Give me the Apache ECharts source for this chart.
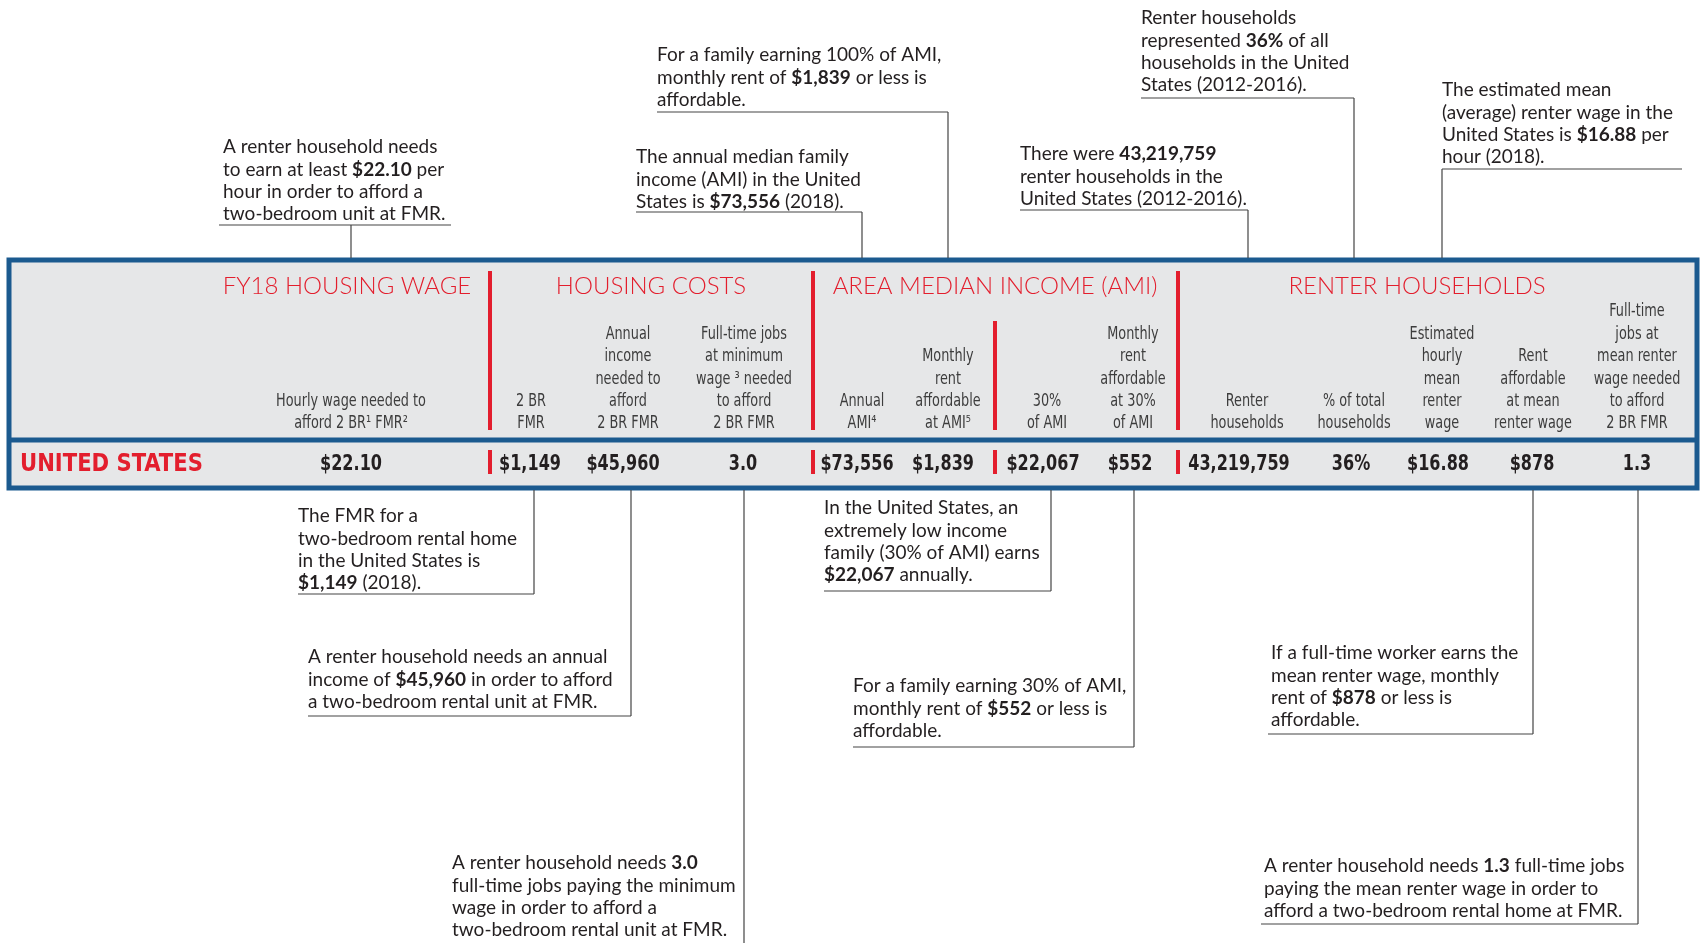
<!DOCTYPE html>
<html>
<head>
<meta charset="utf-8">
<title>Out of Reach 2018 - United States</title>
<script src="https://cdn.jsdelivr.net/npm/echarts@6.0.0/dist/echarts.min.js"></script>
<style>
  html, body { margin: 0; padding: 0; background: #fff; }
  #main { width: 1700px; height: 943px; }
</style>
</head>
<body>
<div id="main"></div>
<script>
var myChart = echarts.init(document.getElementById('main'));

// group titles over the table
const groupTitles = ['FY18 HOUSING WAGE', 'HOUSING COSTS', 'AREA MEDIAN INCOME (AMI)', 'RENTER HOUSEHOLDS'];

// column headers, one list of lines per column
const columnHeaders = [
    ['Hourly wage needed to', 'afford 2 BR¹ FMR²'],
    ['2 BR', 'FMR'],
    ['Annual', 'income', 'needed to', 'afford', '2 BR FMR'],
    ['Full-time jobs', 'at minimum', 'wage ³ needed', 'to afford', '2 BR FMR'],
    ['Annual', 'AMI⁴'],
    ['Monthly', 'rent', 'affordable', 'at AMI⁵'],
    ['30%', 'of AMI'],
    ['Monthly', 'rent', 'affordable', 'at 30%', 'of AMI'],
    ['Renter', 'households'],
    ['% of total', 'households'],
    ['Estimated', 'hourly', 'mean', 'renter', 'wage'],
    ['Rent', 'affordable', 'at mean', 'renter wage'],
    ['Full-time', 'jobs at', 'mean renter', 'wage needed', 'to afford', '2 BR FMR']
];

const rowLabel = 'UNITED STATES';
const rowValues = ['$22.10', '$1,149', '$45,960', '3.0', '$73,556', '$1,839', '$22,067', '$552',
    '43,219,759', '36%', '$16.88', '$878', '1.3'];

// callouts, {b|...} is bold
const notesAbove = [
    ['A renter household needs', 'to earn at least {b|$22.10} per', 'hour in order to afford a', 'two-bedroom unit at FMR.'],
    ['For a family earning 100% of AMI,', 'monthly rent of {b|$1,839} or less is', 'affordable.'],
    ['The annual median family', 'income (AMI) in the United', 'States is {b|$73,556} (2018).'],
    ['There were {b|43,219,759}', 'renter households in the', 'United States (2012-2016).'],
    ['Renter households', 'represented {b|36%} of all', 'households in the United', 'States (2012-2016).'],
    ['The estimated mean', '(average) renter wage in the', 'United States is {b|$16.88} per', 'hour (2018).']
];
const notesBelow = [
    ['The FMR for a', 'two-bedroom rental home', 'in the United States is', '{b|$1,149} (2018).'],
    ['A renter household needs an annual', 'income of {b|$45,960} in order to afford', 'a two-bedroom rental unit at FMR.'],
    ['A renter household needs {b|3.0}', 'full-time jobs paying the minimum', 'wage in order to afford a', 'two-bedroom rental unit at FMR.'],
    ['In the United States, an', 'extremely low income', 'family (30% of AMI) earns', '{b|$22,067} annually.'],
    ['For a family earning 30% of AMI,', 'monthly rent of {b|$552} or less is', 'affordable.'],
    ['If a full-time worker earns the', 'mean renter wage, monthly', 'rent of {b|$878} or less is', 'affordable.'],
    ['A renter household needs {b|1.3} full-time jobs', 'paying the mean renter wage in order to', 'afford a two-bedroom rental home at FMR.']
];

// ---- layout ----
const RED = '#e31e2d', BLUE = '#1b5a8f', INK = '#231f20', GREY = '#3d3d3d';
const NARROW = "'DejaVu Sans Condensed', 'DejaVu Sans', sans-serif";
const NOTE_FONT = "Lato, 'Open Sans', sans-serif";
const box = { x: 9, y: 260, w: 1688, h: 228, split: 440 };
const groupX = [347, 651, 995, 1417];
const headX = [351, 531, 628, 744, 862, 948, 1047, 1133, 1247, 1354, 1442, 1533, 1637];
const valueX = [351, 530, 623, 743, 857, 943, 1043, 1130, 1239, 1351, 1438, 1532, 1637];
const bigBars = [490, 813, 1178];
const smallBar = 995;
const aboveLayout = [
    { x: 223, y: 147, line: [219, 451, 225], link: 351 },
    { x: 657, y: 55, line: [657, 948, 112], link: 948 },
    { x: 636, y: 157, line: [636, 862, 212], link: 862 },
    { x: 1020, y: 154, line: [1020, 1248, 210], link: 1248 },
    { x: 1141, y: 18, line: [1141, 1354, 98], link: 1354 },
    { x: 1442, y: 90, line: [1442, 1682, 169], link: 1442 }
];
const belowLayout = [
    { x: 298, y: 516, line: [298, 534, 594], link: 534 },
    { x: 308, y: 657, line: [308, 631, 716], link: 631 },
    { x: 452, y: 863, line: null, link: 744, end: 943 },
    { x: 824, y: 508, line: [824, 1051, 591], link: 1051 },
    { x: 853, y: 686, line: [853, 1134, 747], link: 1134 },
    { x: 1271, y: 653, line: [1268, 1533, 734], link: 1533 },
    { x: 1264, y: 866, line: [1261, 1638, 924], link: 1638 }
];

function seg(x1, y1, x2, y2, color, w) {
    return { type: 'line', shape: { x1: x1, y1: y1, x2: x2, y2: y2 }, style: { stroke: color, lineWidth: w } };
}
function txt(x, y, text, opt, sx) {
    return {
        type: 'text', x: x, y: y, z: 10, scaleX: sx || 1,
        style: Object.assign({ text: text, textAlign: 'center', textVerticalAlign: 'middle', fill: INK }, opt)
    };
}
function noteLine(x, y, text) {
    return txt(x, y, text, {
        textAlign: 'left', fontFamily: NOTE_FONT, fontSize: 19, fill: INK,
        rich: { b: { fontFamily: NOTE_FONT, fontSize: 19, fontWeight: 'bold', fill: INK } }
    });
}

var graphics = [];

// table body
graphics.push({ type: 'rect', shape: { x: box.x, y: box.y, width: box.w, height: box.h },
    style: { fill: '#e6e7e8', stroke: BLUE, lineWidth: 5 } });
graphics.push(seg(box.x, box.split, box.x + box.w, box.split, BLUE, 5));

// red dividers
bigBars.forEach(function (x) {
    graphics.push(seg(x, 271, x, 430, RED, 4));
    graphics.push(seg(x, 450, x, 474, RED, 4));
});
graphics.push(seg(smallBar, 321, smallBar, 430, RED, 4));
graphics.push(seg(smallBar, 450, smallBar, 474, RED, 4));

groupTitles.forEach(function (t, i) {
    graphics.push(txt(groupX[i], 286, t, { fontFamily: NOTE_FONT, fontSize: 24, fontWeight: 300, fill: RED }));
});

columnHeaders.forEach(function (lines, i) {
    lines.forEach(function (l, j) {
        graphics.push(txt(headX[i], 424 - (lines.length - 1 - j) * 22.4, l,
            { fontFamily: NARROW, fontSize: 17, fill: GREY }, 0.84));
    });
});

graphics.push(txt(20, 464, rowLabel, { textAlign: 'left', fontFamily: NARROW, fontSize: 25, fontWeight: 'bold', fill: RED }, 0.94));
rowValues.forEach(function (v, i) {
    graphics.push(txt(valueX[i], 465, v, { fontFamily: NARROW, fontSize: 21, fontWeight: 'bold', fill: INK }, 0.85));
});

// callouts
notesAbove.forEach(function (lines, i) {
    var L = aboveLayout[i];
    lines.forEach(function (l, j) { graphics.push(noteLine(L.x, L.y + j * 22.4, l)); });
    graphics.push(seg(L.line[0], L.line[2], L.line[1], L.line[2], '#444', 1.2));
    graphics.push(seg(L.link, L.line[2], L.link, box.y - 2, '#444', 1.2));
});
notesBelow.forEach(function (lines, i) {
    var L = belowLayout[i];
    lines.forEach(function (l, j) { graphics.push(noteLine(L.x, L.y + j * 22.4, l)); });
    var end = L.line ? L.line[2] : L.end;
    if (L.line) graphics.push(seg(L.line[0], L.line[2], L.line[1], L.line[2], '#444', 1.2));
    graphics.push(seg(L.link, box.y + box.h + 2, L.link, end, '#444', 1.2));
});

option = {
    backgroundColor: '#ffffff',
    animation: false,
    graphic: { elements: graphics }
};

myChart.setOption(option);
</script>
</body>
</html>
